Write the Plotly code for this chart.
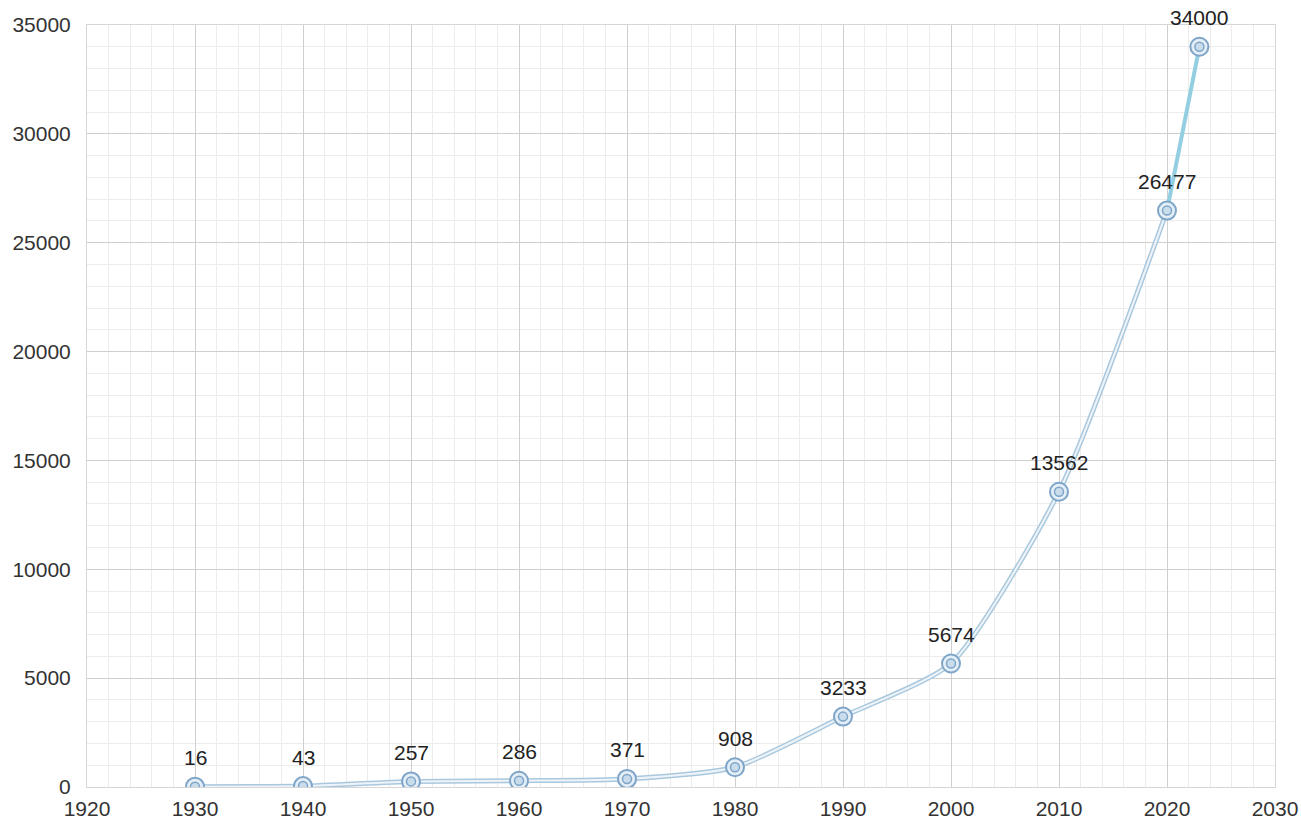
import plotly.graph_objects as go

years = [1930, 1940, 1950, 1960, 1970, 1980, 1990, 2000, 2010, 2020, 2023]
values = [16, 43, 257, 286, 371, 908, 3233, 5674, 13562, 26477, 34000]
labels = [str(v) for v in values]

FONT = "Liberation Sans, Arial, sans-serif"

fig = go.Figure()
# double line: outer light blue, inner white
fig.add_trace(go.Scatter(x=years[:-1], y=values[:-1], mode="lines",
                         line=dict(color="#a9c8de", width=5, shape="spline", smoothing=0.6),
                         hoverinfo="skip", showlegend=False))
fig.add_trace(go.Scatter(x=years[:-1], y=values[:-1], mode="lines",
                         line=dict(color="#eef4f9", width=2, shape="spline", smoothing=0.6),
                         hoverinfo="skip", showlegend=False))
# last segment thicker cyan
fig.add_trace(go.Scatter(x=years[-2:], y=values[-2:], mode="lines",
                         line=dict(color="#93cfe0", width=4),
                         hoverinfo="skip", showlegend=False))
# markers: outer ring
fig.add_trace(go.Scatter(x=years, y=values, mode="markers",
                         marker=dict(size=18, color="#e4eef7", line=dict(color="#7ea5c8", width=2)),
                         hoverinfo="skip", showlegend=False))
# inner ring
fig.add_trace(go.Scatter(x=years, y=values, mode="markers",
                         marker=dict(size=9, color="#c9dcec", line=dict(color="#7ea5c8", width=1.5)),
                         hoverinfo="skip", showlegend=False))

for x, y, t in zip(years, values, labels):
    fig.add_annotation(x=x, y=y, text=t, showarrow=False, yshift=29,
                       font=dict(family=FONT, size=21, color="#222222"))

fig.update_layout(
    width=1301, height=821,
    margin=dict(l=87, r=26, t=25, b=34, autoexpand=False),
    paper_bgcolor="white", plot_bgcolor="white",
    font=dict(family=FONT, size=21, color="#333333"),
    hovermode=False,
)
fig.update_xaxes(range=[1920, 2030], tickmode="linear", tick0=1920, dtick=10,
                 showgrid=True, gridcolor="#cfcfcf", gridwidth=1,
                 minor=dict(dtick=2, showgrid=True, gridcolor="#ececec", gridwidth=1),
                 showline=True, linecolor="#d6d6d6", mirror=True, zeroline=False,
                 ticks="outside", ticklen=3, tickcolor="rgba(0,0,0,0)",
                 automargin=False, tickformat="d", fixedrange=True)
fig.update_yaxes(range=[0, 35000], tickmode="linear", tick0=0, dtick=5000,
                 showgrid=True, gridcolor="#cfcfcf", gridwidth=1,
                 minor=dict(dtick=1000, showgrid=True, gridcolor="#ececec", gridwidth=1),
                 showline=True, linecolor="#d6d6d6", mirror=True, zeroline=False,
                 ticks="outside", ticklen=11, tickcolor="rgba(0,0,0,0)",
                 automargin=False, tickformat="d", fixedrange=True)

fig.write_html("out.html",
               config={"displayModeBar": False},
               post_script="document.body.style.margin='0';document.body.style.overflow='hidden';")
